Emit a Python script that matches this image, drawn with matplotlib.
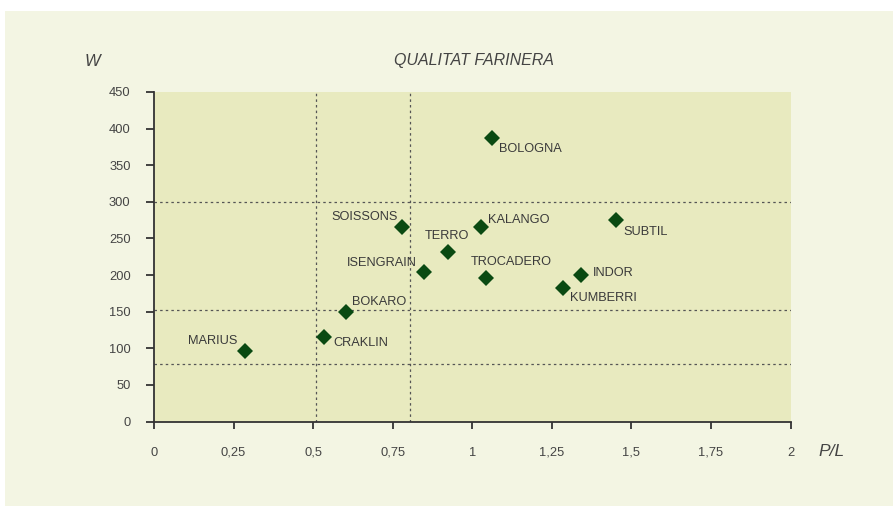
import matplotlib.pyplot as plt
from matplotlib.patches import Rectangle

# Dades
varietats = ['MARIUS', 'CRAKLIN', 'BOKARO', 'SOISSONS', 'ISENGRAIN', 'TERRO',
             'KALANGO', 'TROCADERO', 'BOLOGNA', 'KUMBERRI', 'INDOR', 'SUBTIL']
pl = [0.286, 0.535, 0.604, 0.780, 0.849, 0.925, 1.028, 1.044, 1.063, 1.286, 1.343, 1.453]
w = [96, 115, 149, 265, 204, 232, 265, 196, 387, 183, 200, 275]

linies_pl = [0.51, 0.805]
linies_w = [78, 152, 300]

xticks = [0, 0.25, 0.5, 0.75, 1, 1.25, 1.5, 1.75, 2]
xticklabels = ['0', '0,25', '0,5', '0,75', '1', '1,25', '1,5', '1,75', '2']
yticks = [0, 50, 100, 150, 200, 250, 300, 350, 400, 450]

# posicio de cada etiqueta (pixels respecte al punt) i alineacio
etiq = {
    'MARIUS': (-8, 10, 'right'),
    'CRAKLIN': (9, -6, 'left'),
    'BOKARO': (6, 10, 'left'),
    'SOISSONS': (-4, 10, 'right'),
    'ISENGRAIN': (-7, 9, 'right'),
    'TERRO': (-1, 16, 'center'),
    'KALANGO': (7, 7, 'left'),
    'TROCADERO': (25, 16, 'center'),
    'BOLOGNA': (7, -11, 'left'),
    'KUMBERRI': (7, -10, 'left'),
    'INDOR': (11, 2, 'left'),
    'SUBTIL': (7, -12, 'left'),
}

plt.rcParams['font.family'] = ['Liberation Sans', 'DejaVu Sans']

fig = plt.figure(figsize=(8.93, 5.07), dpi=100)
fig.patch.set_facecolor('white')
# fons del panell
fig.patches.append(Rectangle((5 / 893, 1 - 506 / 507), 888 / 893, 495 / 507,
                             transform=fig.transFigure, facecolor='#f3f5e3',
                             edgecolor='none', zorder=-10))

ax = fig.add_axes([154 / 893, 1 - 421.5 / 507, 636.5 / 893, 329.5 / 507])
ax.set_facecolor('#e8eabf')

for v in linies_pl:
    ax.axvline(v, color='#555555', lw=0.9, ls=(0, (2, 2.5)), zorder=1)
for h in linies_w:
    ax.axhline(h, color='#555555', lw=0.9, ls=(0, (2, 2.5)), zorder=1)

ax.plot(pl, w, 'D', color='#0a4a12', markersize=8.3, markeredgewidth=0, zorder=3)

for nom, x, y in zip(varietats, pl, w):
    dx, dy, ha = etiq[nom]
    ax.annotate(nom, (x, y), xytext=(dx, dy), textcoords='offset pixels',
                ha=ha, va='center', fontsize=9.2, color='#3a3a3a', zorder=4)

ax.set_xlim(0, 2)
ax.set_ylim(0, 450)
ax.set_xticks(xticks)
ax.set_xticklabels(xticklabels)
ax.set_yticks(yticks)

for s in ['top', 'right']:
    ax.spines[s].set_visible(False)
for s in ['left', 'bottom']:
    ax.spines[s].set_color('#333333')
    ax.spines[s].set_linewidth(1.3)

ax.tick_params(axis='both', direction='out', color='#333333', width=1.3,
               labelsize=9.3, labelcolor='#444444')
ax.tick_params(axis='y', length=5.8, pad=11)
ax.tick_params(axis='x', length=5, pad=13)

fig.text(474 / 893, 1 - 61 / 507, 'QUALITAT FARINERA', ha='center', va='center',
         fontsize=11.5, style='italic', color='#444444')
fig.text(92 / 893, 1 - 61 / 507, 'W', ha='center', va='center',
         fontsize=12, style='italic', color='#444444')
fig.text(832 / 893, 1 - 451 / 507, 'P/L', ha='center', va='center',
         fontsize=12.5, style='italic', color='#444444')

fig.savefig('out.png', dpi=100, facecolor=fig.get_facecolor())
